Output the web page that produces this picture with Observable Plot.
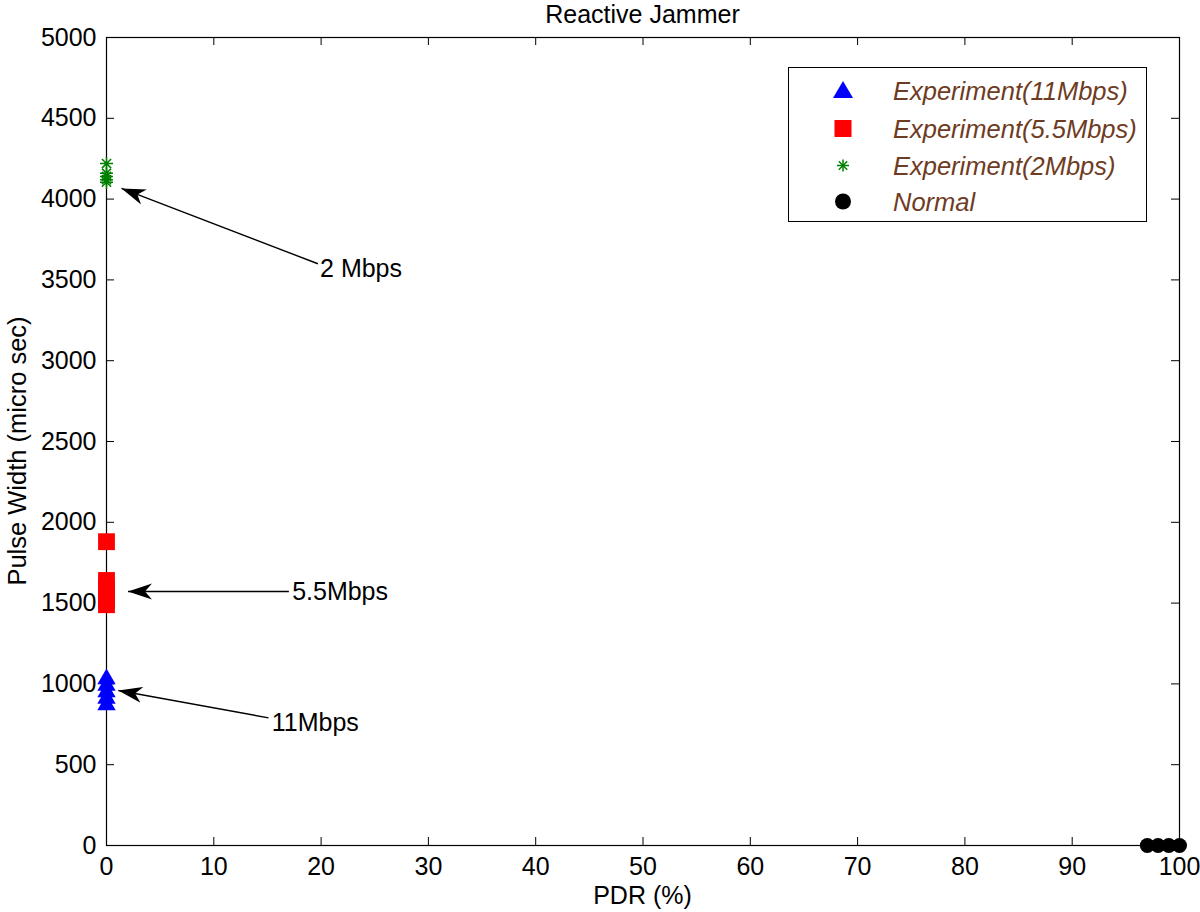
<!DOCTYPE html>
<html><head><meta charset="utf-8">
<script src="https://cdn.jsdelivr.net/npm/d3@7"></script>
<script src="https://cdn.jsdelivr.net/npm/@observablehq/plot@0.6"></script>
<style>
body{margin:0;background:#fff;font-family:"Liberation Sans",Arial,Helvetica,sans-serif;}
#wrap{position:relative;width:1200px;height:912px;}
.lbl{position:absolute;font-size:25px;color:#000;white-space:nowrap;}
#title{top:0;left:106px;width:1073px;text-align:center;line-height:28px;}
#xlabel{top:880px;left:106px;width:1073px;text-align:center;line-height:30px;}
#ylabel{left:17px;top:451px;font-size:25.5px;transform:translate(-50%,-50%) rotate(-90deg);line-height:30px;}
#legend{position:absolute;left:788px;top:67px;width:359px;height:155px;border:1.5px solid #000;background:#fff;box-sizing:border-box;}
.item{position:absolute;left:0;width:100%;height:36px;}
.item svg{position:absolute;left:42px;top:6px;}
.item span{position:absolute;left:104px;top:0;line-height:36px;font-size:25.5px;font-style:italic;color:#6e3b23;}
</style>
</head><body>
<div id="wrap">
  <div id="chart"></div>
  <div class="lbl" id="title">Reactive Jammer</div>
  <div class="lbl" id="xlabel">PDR (%)</div>
  <div class="lbl" id="ylabel">Pulse Width (micro sec)</div>
  <div id="legend"></div>
</div>
<script>
// ---- data ----
const seriesNames = ["Experiment(11Mbps)", "Experiment(5.5Mbps)", "Experiment(2Mbps)", "Normal"];
const pdr11 = [0, 0, 0, 0, 0];
const pw11 = [1030, 990, 950, 910, 870];
const pdr55 = [0, 0, 0, 0, 0, 0];
const pw55 = [1880, 1640, 1600, 1560, 1520, 1490];
const pdr2 = [0, 0, 0, 0, 0];
const pw2 = [4220, 4160, 4140, 4120, 4105];
const pdrNormal = [97, 98, 99, 100];
const pwNormal = [0, 0, 0, 0];
const xTicks = [0, 10, 20, 30, 40, 50, 60, 70, 80, 90, 100];
const yTicks = [0, 500, 1000, 1500, 2000, 2500, 3000, 3500, 4000, 4500, 5000];
const annLabels = ["2 Mbps", "5.5Mbps", "11Mbps"];
const annTextX = [19.9, 17.3, 15.4];
const annTextY = [3570, 1566, 761];
const annTailX = [19.7, 17.0, 15.1];
const annTailY = [3600, 1572, 790];
const annTipX = [1.4, 2.0, 1.1];
const annTipY = [4066, 1572, 959];

const zip = (xs, ys) => xs.map((x, i) => ({x, y: ys[i]}));
const d11 = zip(pdr11, pw11), d55 = zip(pdr55, pw55), d2 = zip(pdr2, pw2), dN = zip(pdrNormal, pwNormal);
const ann = annLabels.map((t, i) => ({t, tx: annTextX[i], ty: annTextY[i], x1: annTailX[i], y1: annTailY[i], x2: annTipX[i], y2: annTipY[i]}));

const star8 = {draw(ctx, size) {
  const r = Math.sqrt(size / Math.PI);
  for (let i = 0; i < 4; i++) {
    const a = i * Math.PI / 4, c = r * Math.cos(a), s = r * Math.sin(a);
    ctx.moveTo(c, s); ctx.lineTo(-c, -s);
  }
}};

function headMarker(color, context) {
  const m = d3.create("svg:marker")
    .attr("viewBox", "-24 -9 26 18").attr("markerWidth", 26).attr("markerHeight", 18)
    .attr("markerUnits", "userSpaceOnUse").attr("orient", "auto").attr("refX", 0).attr("refY", 0)
    .attr("fill", "#000").attr("stroke", "none");
  m.append("path").attr("d", "M0,0L-24,-8L-17,0L-24,8Z");
  return m.node();
}

const W = 1200, H = 912, mL = 106, mR = 21, mT = 37, mB = 67;
const fw = W - mL - mR, fh = H - mT - mB;

function build(marker) {
  return Plot.plot({
    width: W, height: H,
    marginLeft: mL, marginRight: mR, marginTop: mT, marginBottom: mB,
    style: {fontFamily: '"Liberation Sans", Arial, Helvetica, sans-serif', fontSize: "25px", background: "#fff", color: "#000"},
    x: {domain: [0, 100]},
    y: {domain: [0, 5000]},
    marks: [
      Plot.axisX({ticks: xTicks, tickSize: 0, tickPadding: 12, tickFormat: d => String(d), label: null, fontSize: 25}),
      Plot.axisY({ticks: yTicks, tickSize: 0, tickPadding: 10, tickFormat: d => String(d), label: null, fontSize: 25}),
      Plot.tickX(xTicks, {x: d => d, insetTop: fh - 8, stroke: "#000"}),
      Plot.tickX(xTicks, {x: d => d, insetBottom: fh - 8, stroke: "#000"}),
      Plot.tickY(yTicks, {y: d => d, insetLeft: fw - 8, stroke: "#000"}),
      Plot.tickY(yTicks, {y: d => d, insetRight: fw - 8, stroke: "#000"}),
      Plot.frame({stroke: "#000", strokeWidth: 1.2}),
      Plot.link(ann, {x1: "x1", y1: "y1", x2: "x2", y2: "y2", stroke: "#000", strokeWidth: 1.4, markerEnd: marker}),
      Plot.text(ann, {x: "tx", y: "ty", text: "t", textAnchor: "start", fontSize: 25, fill: "#000"}),
      Plot.dot(d55, {x: "x", y: "y", symbol: "square", r: 9.5, fill: "#ff0000", stroke: "none"}),
      Plot.dot(d11, {x: "x", y: "y", symbol: "triangle", r: 6.8, fill: "#0000ff", stroke: "none"}),
      Plot.dot(d2, {x: "x", y: "y", symbol: star8, r: 6.5, fill: "none", stroke: "#008000", strokeWidth: 1.5}),
      Plot.dot(dN, {x: "x", y: "y", symbol: "circle", r: 7.5, fill: "#000", stroke: "none"})
    ]
  });
}

let chart;
try { chart = build(headMarker); } catch (e) { chart = build("arrow"); }
document.getElementById("chart").appendChild(chart);

// legend
const legend = document.getElementById("legend");
const legendTops = [5, 43, 80, 116];
const legendSym = [
  '<polygon points="12,2 22,19 2,19" fill="#0000ff"/>',
  '<rect x="3.5" y="3" width="17" height="17" fill="#ff0000"/>',
  '<g stroke="#008000" stroke-width="1.5"><line x1="6" y1="11.5" x2="18" y2="11.5"/><line x1="12" y1="5.5" x2="12" y2="17.5"/><line x1="7.8" y1="7.3" x2="16.2" y2="15.7"/><line x1="7.8" y1="15.7" x2="16.2" y2="7.3"/></g>',
  '<circle cx="12" cy="11.5" r="8" fill="#000"/>'
];
seriesNames.forEach((name, i) => {
  const div = document.createElement("div");
  div.className = "item";
  div.style.top = legendTops[i] + "px";
  div.innerHTML = `<svg width="24" height="24">${legendSym[i]}</svg><span>${name}</span>`;
  legend.appendChild(div);
});
</script>
</body></html>
